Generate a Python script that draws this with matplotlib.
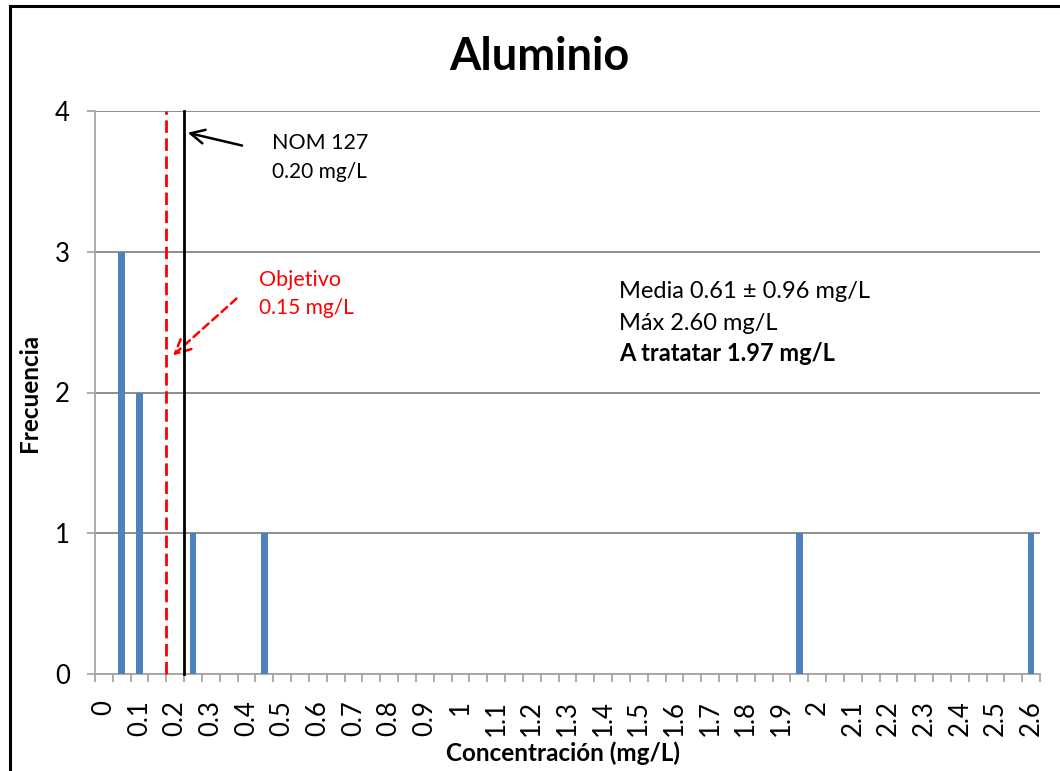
import matplotlib
matplotlib.use("Agg")
import matplotlib.pyplot as plt
from matplotlib.lines import Line2D
import numpy as np

plt.rcParams['font.family'] = ['Lato', 'DejaVu Sans']

# Histogram bins (mg/L), one category every 0.05 mg/L
bin_step = 0.05
bin_count = 53
tick_labels = ["0", "0.1", "0.2", "0.3", "0.4", "0.5", "0.6", "0.7", "0.8", "0.9",
               "1", "1.1", "1.2", "1.3", "1.4", "1.5", "1.6", "1.7", "1.8", "1.9",
               "2", "2.1", "2.2", "2.3", "2.4", "2.5", "2.6"]

# Observed concentrations and how many samples fall in each bin
bin_values = [0.05, 0.10, 0.25, 0.45, 1.95, 2.60]
frequencies = [3, 2, 1, 1, 1, 1]

nom_limit = 0.20     # NOM 127
target = 0.15        # Objetivo

title = "Aluminio"
xlabel = "Concentración (mg/L)"
ylabel = "Frecuencia"
stats_lines = ["Media 0.61 \u00b1 0.96 mg/L", "Máx 2.60 mg/L", "A tratatar 1.97 mg/L"]

BAR_BLUE = "#4F81BD"
GRID_GRAY = "#868686"
AXIS_GRAY = "#A6A6A6"

W, H = 1060, 771
fig = plt.figure(figsize=(W / 100, H / 100), dpi=100)
fig.patch.set_facecolor("white")

L, R, T, B = 95, 1040, 111, 674
ax = fig.add_axes([L / W, 1 - B / H, (R - L) / W, (B - T) / H])


def cat(v):
    """Category index of a concentration value."""
    return v / bin_step


bar_x = [cat(v) for v in bin_values]
ax.bar(bar_x, frequencies, width=0.37, color=BAR_BLUE, zorder=3)

ax.set_xlim(-0.5, bin_count - 0.5)
ax.set_ylim(0, 4)

# x axis: marks at the bin edges, labels every 0.1 mg/L
ax.set_xticks(np.arange(-0.5, bin_count, 1.0), minor=True)
ax.set_xticks(np.arange(0, bin_count, 2))
ax.set_xticklabels(tick_labels, rotation=90, va="top", ha="center", fontsize=18.5)
ax.tick_params(axis="x", which="major", length=0, pad=19)
ax.tick_params(axis="x", which="minor", length=6, width=1.3, color=AXIS_GRAY, direction="out")

ax.set_yticks([0, 1, 2, 3, 4])
ax.set_yticklabels(["0", "1", "2", "3", "4"], fontsize=18.5)
ax.tick_params(axis="y", length=6, width=1.3, color=AXIS_GRAY, direction="out", pad=12)

ax.yaxis.grid(True, color=GRID_GRAY, linewidth=1.3, zorder=0)
ax.set_axisbelow(True)
for side in ("top", "right"):
    ax.spines[side].set_visible(False)
for side in ("left", "bottom"):
    ax.spines[side].set_color(AXIS_GRAY)
    ax.spines[side].set_linewidth(1.3)

ax.set_xlabel(xlabel, fontsize=17.5, fontweight="bold")
ax.set_ylabel(ylabel, fontsize=17.5, fontweight="bold")
ax.xaxis.set_label_coords((563 - L) / (R - L), -(741 - B) / (B - T))
ax.yaxis.set_label_coords(-(L - 41) / (R - L), 0.5)

# Reference lines at the upper edge of each value's bin
x_nom = cat(nom_limit) + 0.5
x_target = cat(target) + 0.5
ax.plot([x_target, x_target], [0, 4], color="#FF0000", linestyle=(0, (4.5, 2)),
        linewidth=2, zorder=4, clip_on=False)
ax.plot([x_nom, x_nom], [0, 4], color="black", linewidth=2, zorder=4, clip_on=False)

# Annotations
ax.annotate("", xy=(x_nom + 0.05, 3.85), xytext=(7.9, 3.75),
            arrowprops=dict(arrowstyle="->,head_length=1.0,head_width=0.5",
                            color="black", lw=1.8))
ax.text(9.4, 3.77, "NOM 127", fontsize=15.5, va="center", ha="left")
ax.text(9.4, 3.57, "0.20 mg/L", fontsize=15, va="center", ha="left")

ax.annotate("", xy=(x_target + 0.25, 2.25), xytext=(7.55, 2.68),
            arrowprops=dict(arrowstyle="->,head_length=1.1,head_width=0.55",
                            color="#FF0000", lw=1.8, linestyle=(0, (3, 2))))
ax.text(8.7, 2.80, "Objetivo", fontsize=15.5, va="center", ha="left", color="#FF0000")
ax.text(8.7, 2.60, "0.15 mg/L", fontsize=15, va="center", ha="left", color="#FF0000")

ax.text(28.9, 2.72, stats_lines[0], fontsize=17, va="center", ha="left")
ax.text(28.9, 2.49, stats_lines[1], fontsize=17, va="center", ha="left")
ax.text(28.9, 2.28, stats_lines[2], fontsize=17, va="center", ha="left", fontweight="bold")

fig.text(539 / W, 1 - 57 / H, title, fontsize=32.5, fontweight="bold", ha="center", va="center")

# Chart area border
fig.add_artist(Line2D([10 / W, 10 / W], [0, 1 - 6 / H], color="black", linewidth=2.2,
                      transform=fig.transFigure))
fig.add_artist(Line2D([10 / W, 1], [1 - 6 / H, 1 - 6 / H], color="black", linewidth=2.2,
                      transform=fig.transFigure))

fig.savefig("out.png", dpi=100)
